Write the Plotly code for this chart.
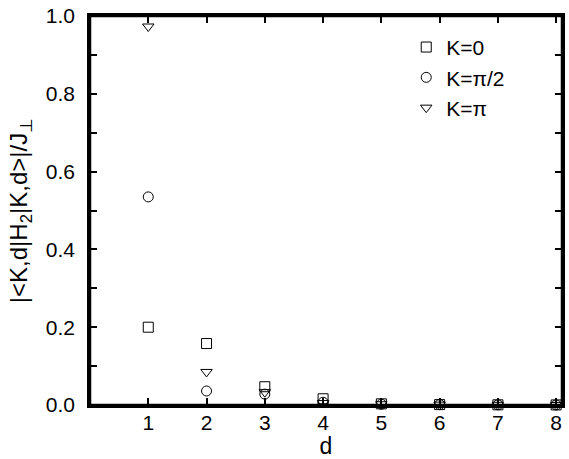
import plotly.graph_objects as go

d = [1, 2, 3, 4, 5, 6, 7, 8]
k0 = [0.200, 0.158, 0.047, 0.016, 0.003, 0.001, 0.0005, 0.0002]
k_half_pi = [0.535, 0.036, 0.028, 0.007, 0.002, 0.001, 0.0004, 0.0001]
k_pi = [0.973, 0.085, 0.033, 0.005, 0.002, 0.001, 0.0004, 0.0001]
y_ticks = [0.0, 0.2, 0.4, 0.6, 0.8, 1.0]

names = ["K=0", "K=\u03c0/2", "K=\u03c0"]
symbols = ["square-open", "circle-open", "triangle-down-open"]
series = [k0, k_half_pi, k_pi]

fig = go.Figure()
for name, sym, ys in zip(names, symbols, series):
    fig.add_trace(go.Scatter(
        x=d, y=ys, mode="markers", name=name, cliponaxis=False,
        marker=dict(symbol=sym, size=10, color="black", line=dict(width=1, color="black")),
    ))

axis_style = dict(
    showline=True, linecolor="black", linewidth=2.5, mirror="allticks",
    ticks="inside", ticklen=7, tickwidth=1.5, tickcolor="black",
    showgrid=False, zeroline=False, ticklabeloverflow="allow",
    tickfont=dict(family="Liberation Sans, Arial", size=21, color="black"),
)

fig.update_xaxes(
    range=[0, 8.1], tickvals=d, ticklabelstandoff=-3, automargin=False,
    title=dict(text="d", font=dict(size=23)),
    **axis_style,
)
fig.update_yaxes(
    range=[0, 1.0], tickvals=y_ticks, ticktext=[f"{v:.1f}" for v in y_ticks], ticklabelstandoff=8,
    minor=dict(ticks="inside", dtick=0.1, ticklen=7, tickwidth=1.5, tickcolor="black"),
    automargin=True,
    title=dict(text="|<K,d|H<sub>2</sub>|K,d>|/J<sub>\u22a5</sub>", font=dict(size=24), standoff=12),
    **axis_style,
)

# frame around the plot area (top/right mirror lines)
fig.add_shape(type="rect", xref="paper", yref="paper", x0=0, x1=1, y0=0, y1=1,
              line=dict(color="black", width=2.5), layer="above")

fig.update_layout(
    width=569, height=459,
    margin=dict(l=90, r=4, t=11, b=54),
    plot_bgcolor="white", paper_bgcolor="white",
    font=dict(family="Liberation Sans, Arial", color="black"),
    legend=dict(x=0.67, y=0.972, xanchor="left", yanchor="top",
                font=dict(size=21), bgcolor="rgba(0,0,0,0)", itemwidth=30, tracegroupgap=0),
    showlegend=True,
)

fig.write_html("out.html", config={"displayModeBar": False},
               post_script="document.body.style.margin='0';")
